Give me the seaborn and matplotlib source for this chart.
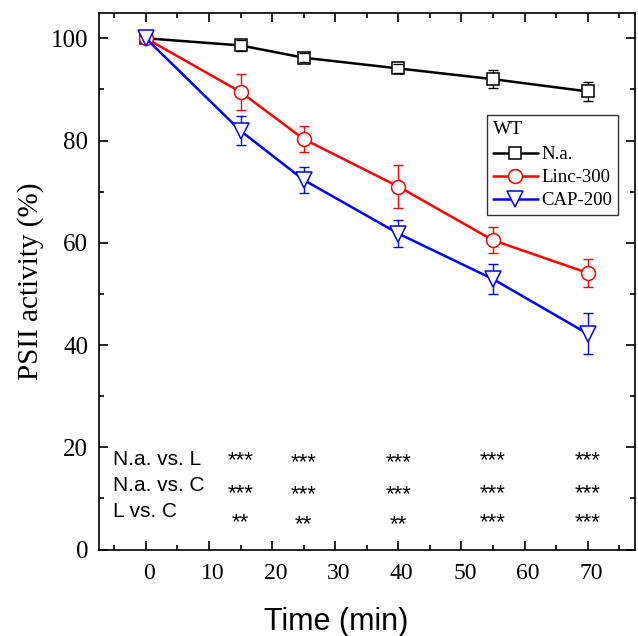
import numpy as np
import pandas as pd
import matplotlib
matplotlib.use("Agg")
import matplotlib.pyplot as plt
import matplotlib.transforms as mtrans
from matplotlib.lines import Line2D
from matplotlib.ticker import MultipleLocator
import seaborn as sns

# ---------------- data ----------------
time = [0, 15, 25, 40, 55, 70]
groups = ["N.a.", "Linc-300", "CAP-200"]
na_mean = [100, 98.6, 96.2, 94.1, 92.0, 89.6]
na_err = [0, 1.1, 0.9, 0.9, 1.8, 1.8]
linc_mean = [100, 89.5, 80.3, 71.0, 60.5, 54.1]
linc_err = [0, 3.6, 2.6, 4.2, 2.6, 2.7]
cap_mean = [100, 81.9, 72.3, 61.8, 52.9, 42.2]
cap_err = [0, 2.8, 2.5, 2.7, 2.9, 4.0]

sig_labels = ["N.a. vs. L", "N.a. vs. C", "L vs. C"]
sig_times = [15, 25, 40, 55, 70]
sig_marks = [["***", "***", "***", "***", "***"],
             ["***", "***", "***", "***", "***"],
             ["**", "**", "**", "***", "***"]]

# ---------------- style ----------------
sns.set_theme(style="ticks")
plt.rcParams["font.family"] = ["Liberation Serif", "DejaVu Serif"]
plt.rcParams["axes.linewidth"] = 1.2
for key in ["text.color", "axes.labelcolor", "xtick.color", "ytick.color", "axes.edgecolor"]:
    plt.rcParams[key] = "black"

colors = ["black", "#ff0000", "#0000ff"]
markers = ["s", "o", "v"]
msizes = [8.5, 10.0, 11.0]
means = [na_mean, linc_mean, cap_mean]
errs = [na_err, linc_err, cap_err]

fig = plt.figure(figsize=(6.38, 6.36), dpi=100)
W, H = 638, 636
x0, x1, y0, y1 = 98.5, 635.0, 12.7, 549.5
ax = fig.add_axes([x0 / W, 1 - y1 / H, (x1 - x0) / W, (y1 - y0) / H])
ax.set_facecolor("white")

long = pd.DataFrame({
    "time": time * 3,
    "value": na_mean + linc_mean + cap_mean,
    "group": sum([[g] * len(time) for g in groups], []),
})

for g, c, m, ms, mu, er in zip(groups, colors, markers, msizes, means, errs):
    sub = long[long["group"] == g]
    t = np.array(time, dtype=float)
    mu_a = np.array(mu, dtype=float)
    er_a = np.array(er, dtype=float)
    keep = er_a > 0
    _, caps, bars = ax.errorbar(t[keep], mu_a[keep], yerr=er_a[keep], fmt="none",
                                ecolor=c, elinewidth=1.0, capsize=3.3, capthick=1.0,
                                zorder=2)
    for cl in caps:
        cl.set_zorder(3.5)
    sns.lineplot(data=sub, x="time", y="value", color=c, marker=m, markersize=ms,
                 markerfacecolor="white", markeredgecolor=c, markeredgewidth=1.1,
                 linewidth=1.8, ax=ax, legend=False, zorder=3, errorbar=None)

ax.set_xlim(-7.5, 77.5)
ax.set_ylim(0, 105)
ax.xaxis.set_major_locator(MultipleLocator(10))
ax.xaxis.set_minor_locator(MultipleLocator(5))
ax.yaxis.set_major_locator(MultipleLocator(20))
ax.yaxis.set_minor_locator(MultipleLocator(10))
ax.tick_params(which="both", direction="in", top=True, right=True, width=1.2,
               color="black", labelcolor="black")
ax.tick_params(which="major", length=6.5)
ax.tick_params(which="minor", length=3.5)
ax.tick_params(axis="y", labelsize=18, pad=7.5)
ax.tick_params(axis="x", labelsize=17, pad=10)
for sp in ax.spines.values():
    sp.set_linewidth(1.2)
    sp.set_color("black")

shift = mtrans.ScaledTranslation(3.5 / 100, 0, fig.dpi_scale_trans)
for lab in ax.get_xticklabels():
    lab.set_transform(lab.get_transform() + shift)

ax.set_xlabel("Time (min)", fontsize=22, family=["Liberation Sans", "DejaVu Sans"], color="black")
ax.xaxis.set_label_coords(0.443, (y1 - 630) / (y1 - y0))
ax.xaxis.label.set_va("baseline")
ax.set_ylabel("PSII activity (%)", fontsize=21, color="black")
ax.yaxis.set_label_coords((31 - x0) / (x1 - x0), 0.5)
ax.yaxis.label.set_va("center")

# significance annotations
label_base = [16.5, 11.4, 6.3]
star_base = [16.2, 9.9, 4.1]
col_shift = [0, -0.35, -0.35, 0, 0]
for r, (lab, marks) in enumerate(zip(sig_labels, sig_marks)):
    ax.text(-5.2, label_base[r], lab, fontsize=15, va="baseline", ha="left",
            family=["Liberation Sans", "DejaVu Sans"], color="black")
    for k, (t, s) in enumerate(zip(sig_times, marks)):
        ax.text(t, star_base[r] + col_shift[k], s, fontsize=16, va="baseline", ha="center",
                family=["Liberation Sans", "DejaVu Sans"], color="black")

handles = [Line2D([], [], color=c, marker=m, markersize=ms, markerfacecolor="white",
                  markeredgecolor=c, markeredgewidth=1.1, linewidth=1.8)
           for c, m, ms in zip(colors, markers, msizes)]
leg = ax.legend(handles, groups, title="WT", loc="upper left",
                bbox_to_anchor=((487 - x0) / (x1 - x0), (y1 - 115) / (y1 - y0)),
                fontsize=13.5, title_fontsize=14, frameon=True, fancybox=False,
                borderpad=0.3, handlelength=2.4, handletextpad=0.2, labelspacing=0.32,
                borderaxespad=0, framealpha=1)
leg._legend_box.align = "left"
leg._legend_box.sep = 6
leg.get_frame().set_edgecolor("#333333")
leg.get_frame().set_linewidth(1.0)
for txt in leg.get_texts():
    txt.set_color("black")
leg.get_title().set_color("black")

fig.savefig("out.png", dpi=100, facecolor="white")
